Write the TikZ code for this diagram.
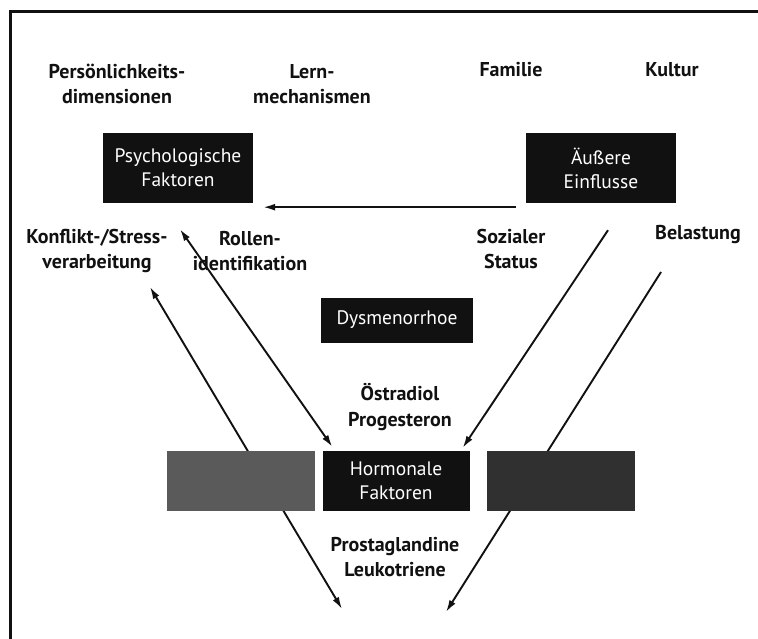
\documentclass[tikz,border=0pt]{standalone}
\usepackage{fontspec}
\setmainfont{PT Sans}
\usetikzlibrary{arrows.meta,backgrounds}
\definecolor{ink}{HTML}{111111}
\definecolor{blur1}{HTML}{5A5A5A}
\definecolor{blur2}{HTML}{303030}
\tikzset{
  fac/.style={fill=ink, text=white, align=center, inner sep=0pt,
              font=\fontsize{19.5}{24}\selectfont, minimum width=150pt, minimum height=70pt},
  blurbox/.style={fill=blur1, inner sep=0pt, minimum width=148pt, minimum height=60pt},
  lbl/.style={align=center, inner sep=0pt, font=\fontsize{20}{25.5}\selectfont\bfseries, text=ink},
  arr/.style={-{Latex[length=12pt,width=7pt]}, line width=1.9pt, draw=ink},
  dbl/.style={{Latex[length=12pt,width=7pt]}-{Latex[length=12pt,width=7pt]}, line width=1.9pt, draw=ink},
}
\begin{document}
\begin{tikzpicture}[x=1pt,y=-1pt]
\useasboundingbox (0,0) rectangle (758,639);
\clip (0,0) rectangle (758,639);
% frame, cut at right and bottom
\draw[line width=3pt, ink] (10,660) -- (10,12) -- (780,12);
% factor boxes
\node[fac] (psy) at (178,168) {Psychologische\\Faktoren};
\node[fac] (ext) at (601,168) {Äußere\\Einflusse};
\node[fac, minimum width=152pt, minimum height=45pt] (dys) at (397,320) {Dysmenorrhoe};
\node[fac, minimum width=147pt, minimum height=60pt] (hor) at (396,481) {Hormonale\\Faktoren};
% free ends of the long connectors
\coordinate (kon) at (150,287);
\coordinate (pro) at (342,609);
\coordinate (bel) at (661,272);
\coordinate (leu) at (446,612);
% long connectors behind the blurred boxes
\draw[dbl] (pro) -- (kon);
\draw[arr] (bel) -- (leu);
% blurred boxes
\node[blurbox] (lbox) at (241,481) {};
\node[blurbox, fill=blur2] (rbox) at (561,481) {};
% labels
\node[lbl] (pers) at (117,84) {Persönlichkeits-\\dimensionen};
\node[lbl] (lern) at (312,84) {Lern-\\mechanismen};
\node[lbl] (fam) at (511,70) {Familie};
\node[lbl] (kul) at (672,70) {Kultur};
\node[lbl] (konf) at (97,251) {Konflikt-/Stress-\\verarbeitung};
\node[lbl] (rol) at (250,251) {Rollen-\\identifikation};
\node[lbl] (soz) at (511,249) {Sozialer\\Status};
\node[lbl] (bela) at (698,235) {Belastung};
\node[lbl] (oest) at (400,407) {Östradiol\\Progesteron};
\node[lbl] (pros) at (395,557) {Prostaglandine\\Leukotriene};
% connectors
\draw[arr] ([xshift=-10pt,yshift=-4pt]ext.south west) -- ([xshift=10pt,yshift=-4pt]psy.south east);
\draw[dbl] ([xshift=2pt,yshift=-26pt]psy.south) -- ([xshift=10pt,yshift=4pt]hor.north west);
\draw[arr] ([xshift=7pt,yshift=-27pt]ext.south) -- ([xshift=-7pt,yshift=3pt]hor.north east);
\end{tikzpicture}
\end{document}
